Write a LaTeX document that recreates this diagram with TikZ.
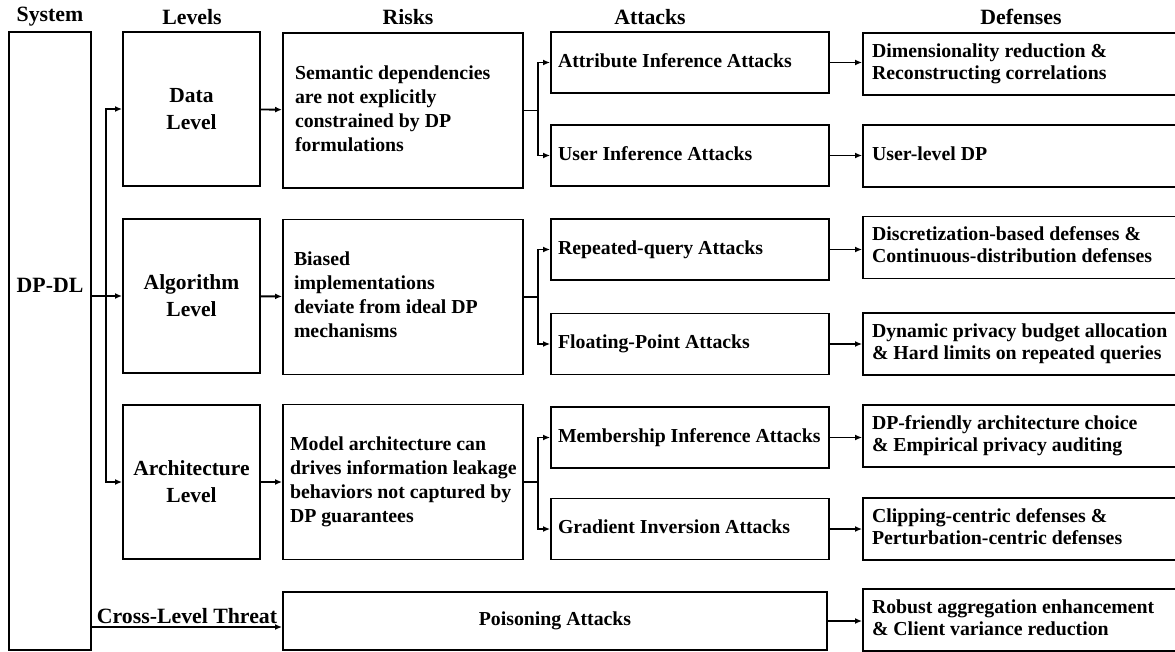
\documentclass[tikz,border=0pt]{standalone}
\usepackage{fontspec}
\setmainfont{Liberation Serif}
\usetikzlibrary{arrows.meta,calc}
% left-aligned block of lines inside a box of given inner width
\newcommand{\leftblock}[2]{\makebox[#1][l]{\begin{tabular}{@{}l@{}}#2\end{tabular}}}
\begin{document}
\begin{tikzpicture}[x=1pt,y=-1pt,
  base/.style={draw, line width=1.9pt, inner sep=0pt, font=\fontsize{19.8}{24}\selectfont\bfseries},
  lvl/.style={base, minimum width=137pt, minimum height=154pt, align=center, font=\fontsize{21.5}{27}\selectfont\bfseries},
  risk/.style={base, minimum width=240pt, minimum height=155pt},
  atk/.style={base, minimum width=278pt, minimum height=61pt},
  dfn/.style={base, minimum width=317pt, minimum height=62pt, font=\fontsize{19.8}{22}\selectfont\bfseries},
  hdr/.style={inner sep=0pt, font=\fontsize{21.8}{24}\selectfont\bfseries},
  arr/.style={line width=1.9pt, -{Latex[length=7pt,width=6pt]}}
]
\useasboundingbox (0,0) rectangle (1175,652);

% column headers
\node[hdr] (hsys) at (50,17) {System};
\node[hdr] (hlev) at (192,17) {Levels};
\node[hdr] (hrisk) at (408,17) {Risks};
\node[hdr] (hatk) at (650,17) {Attacks};
\node[hdr] (hdef) at (1021,17) {Defenses};

% system column
\node[base, minimum width=82pt, minimum height=618pt] (sys) at (50,341) {};
\node[hdr] (sysname) at (50,285) {DP-DL};

% levels
\node[lvl] (data) at (191.5,109) {Data\\Level};
\node[lvl] (alg) at (191.5,296) {Algorithm\\Level};
\node[lvl] (arch) at (191.5,482) {Architecture\\Level};

% risks
\node[risk] (rdata) at (403,110.5) {\leftblock{216pt}{Semantic dependencies\\are not explicitly\\constrained by DP\\formulations}};
\node[risk] (ralg) at (403,297) {\leftblock{218pt}{Biased\\implementations\\deviate from ideal DP\\mechanisms}};
\node[risk] (rarch) at (403,482) {\leftblock{226pt}{Model architecture can\\drives information leakage\\behaviors not captured by\\DP guarantees}};

% attacks
\node[atk] (a1) at (690,62.5) {\leftblock{264pt}{Attribute Inference Attacks}};
\node[atk] (a2) at (690,155.5) {\leftblock{264pt}{User Inference Attacks}};
\node[atk] (a3) at (690,249.5) {\leftblock{264pt}{Repeated-query Attacks}};
\node[atk] (a4) at (690,344) {\leftblock{264pt}{Floating-Point Attacks}};
\node[atk] (a5) at (690,437.5) {\leftblock{264pt}{Membership Inference Attacks}};
\node[atk] (a6) at (690,529) {\leftblock{264pt}{Gradient Inversion Attacks}};
\node[base, minimum width=544pt, minimum height=58pt] (a7) at (555,621) {Poisoning Attacks};

% defenses
\node[dfn] (d1) at (1021.5,64) {\leftblock{299pt}{Dimensionality reduction \&\\Reconstructing correlations}};
\node[dfn] (d2) at (1021.5,156) {\leftblock{299pt}{User-level DP}};
\node[dfn] (d3) at (1021.5,247.5) {\leftblock{299pt}{Discretization-based defenses \&\\Continuous-distribution defenses}};
\node[dfn] (d4) at (1021.5,344) {\leftblock{299pt}{Dynamic privacy budget allocation\\\& Hard limits on repeated queries}};
\node[dfn] (d5) at (1021.5,436) {\leftblock{299pt}{DP-friendly architecture choice\\\& Empirical privacy auditing}};
\node[dfn] (d6) at (1021.5,529) {\leftblock{299pt}{Clipping-centric defenses \&\\Perturbation-centric defenses}};
\node[dfn] (d7) at (1021.5,620) {\leftblock{299pt}{Robust aggregation enhancement\\\& Client variance reduction}};

% system to levels
\coordinate (bus) at (106,0);
\draw[arr] (sys.east |- alg.west) -- (alg.west);
\draw[arr] (bus |- arch.west) -- (bus |- data.west) -- (data.west);
\draw[arr] (bus |- data.west) -- (bus |- arch.west) -- (arch.west);

% levels to risks
\draw[arr] (data) -- (rdata);
\draw[arr] (alg) -- (ralg);
\draw[arr] (arch) -- (rarch);

% risks branch to attacks
\draw[arr] (rdata.east) -- ++(14,0) |- (a1.west);
\draw[arr] (rdata.east) -- ++(14,0) |- (a2.west);
\draw[arr] (ralg.east) -- ++(14,0) |- (a3.west);
\draw[arr] (ralg.east) -- ++(14,0) |- (a4.west);
\draw[arr] (rarch.east) -- ++(14,0) |- (a5.west);
\draw[arr] (rarch.east) -- ++(14,0) |- (a6.west);

% attacks to defenses
\draw[arr] (a1) -- (d1.west |- a1);
\draw[arr] (a2) -- (d2.west |- a2);
\draw[arr] (a3) -- (d3.west |- a3);
\draw[arr] (a4) -- (d4.west |- a4);
\draw[arr] (a5) -- (d5.west |- a5);
\draw[arr] (a6) -- (d6.west |- a6);
\draw[arr] (a7) -- (d7.west |- a7);

% cross-level threat
\draw[arr] ([yshift=-6pt]sys.east |- a7.west) -- node[hdr, above, inner sep=2pt] (xlab) {Cross-Level Threat} ([yshift=-6pt]a7.west);
\end{tikzpicture}
\end{document}
